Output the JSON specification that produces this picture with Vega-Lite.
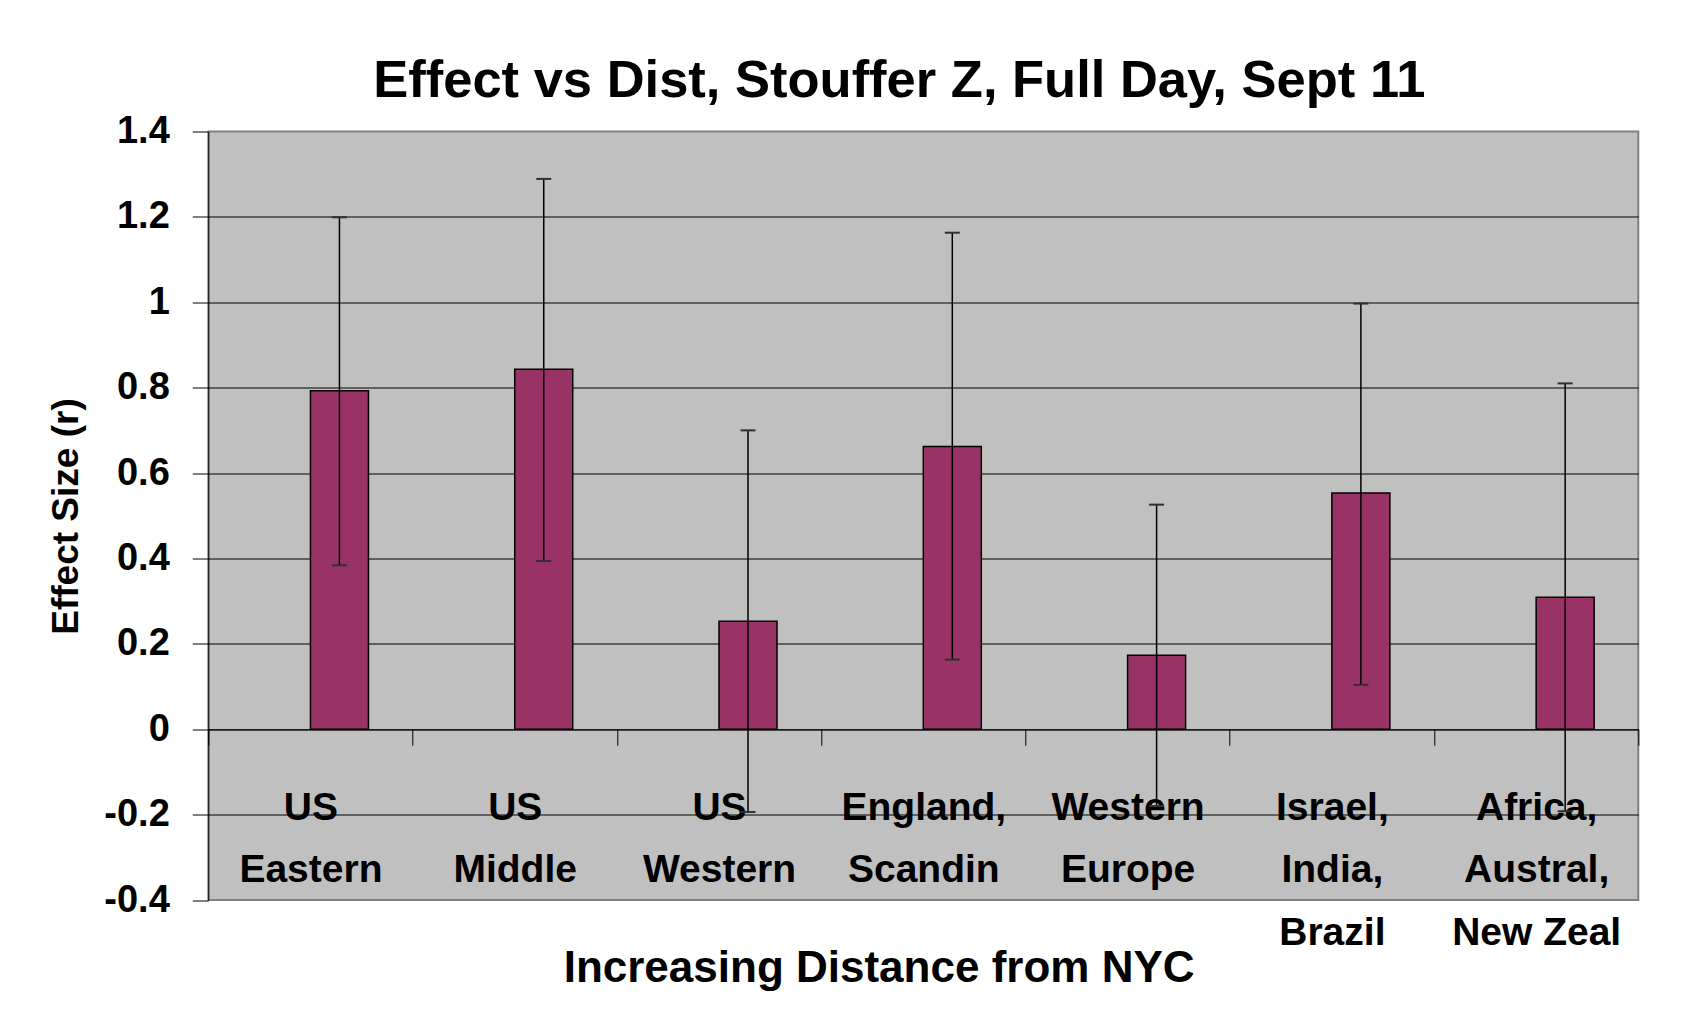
{
  "$schema": "https://vega.github.io/schema/vega-lite/v6.json",
  "width": 1430,
  "height": 768.5,
  "autosize": {"type": "none"},
  "padding": {"left": 208.3, "top": 131.5, "right": 49.7, "bottom": 116},
  "background": "white",
  "config": {
    "view": {"fill": "#C0C0C0", "stroke": "#808080", "strokeWidth": 2},
    "font": "Liberation Sans, Arial, sans-serif"
  },
  "title": {
    "text": "Effect vs Dist, Stouffer Z, Full Day, Sept 11",
    "fontSize": 52.5,
    "fontWeight": "bold",
    "color": "black",
    "anchor": "middle",
    "frame": "group",
    "baseline": "alphabetic",
    "offset": 12,
    "dy": 49,
    "dx": -24
  },
  "data": {
    "values": [
      {"region": "US Eastern", "series": "b", "effect": 0.793, "lo": 0.384, "hi": 1.199},
      {"region": "US Middle", "series": "b", "effect": 0.843, "lo": 0.394, "hi": 1.289},
      {"region": "US Western", "series": "b", "effect": 0.253, "lo": -0.194, "hi": 0.7},
      {"region": "England, Scandin", "series": "b", "effect": 0.662, "lo": 0.163, "hi": 1.163},
      {"region": "Western Europe", "series": "b", "effect": 0.173, "lo": -0.18, "hi": 0.526},
      {"region": "Israel, India, Brazil", "series": "b", "effect": 0.553, "lo": 0.104, "hi": 0.997},
      {"region": "Africa, Austral, New Zeal", "series": "b", "effect": 0.309, "lo": -0.192, "hi": 0.81}
    ]
  },
  "encoding": {
    "x": {
      "field": "region",
      "type": "nominal",
      "sort": null,
      "scale": {"paddingInner": 0, "paddingOuter": 0},
      "axis": {
        "title": "Increasing Distance from NYC",
        "titleFontSize": 44,
        "titleFontWeight": "bold",
        "titleColor": "black",
        "titleX": 670.3,
        "titleY": 252,
        "titleBaseline": "alphabetic",
        "titleAlign": "center",
        "offset": -170.7,
        "domainColor": "black",
        "domainWidth": 1,
        "tickBand": "extent",
        "tickSize": 16,
        "tickColor": "black",
        "tickWidth": 1,
        "labelAngle": 0,
        "labelFontSize": 39,
        "labelFontWeight": "bold",
        "labelColor": "black",
        "labelBaseline": "top",
        "labelAlign": "center",
        "labelLineHeight": 62.4,
        "labelPadding": 43.2,
        "labelLimit": 0,
        "labelOverlap": false,
        "labelExpr": "datum.label == 'Africa, Austral, New Zeal' ? ['Africa,', 'Austral,', 'New Zeal'] : split(datum.label, ' ')",
        "grid": false
      }
    }
  },
  "layer": [
    {
      "mark": {"type": "bar", "color": "#993366", "stroke": "black", "strokeWidth": 1.5},
      "encoding": {
        "xOffset": {"field": "series", "type": "nominal", "scale": {"domain": ["a", "b"], "paddingInner": 0, "paddingOuter": 0.761}},
        "y": {
          "field": "effect",
          "type": "quantitative",
          "title": "Effect Size (r)",
          "scale": {"domain": [-0.4, 1.4], "nice": false},
          "axis": {
            "values": [-0.4, -0.2, 0, 0.2, 0.4, 0.6, 0.8, 1, 1.2, 1.4],
            "labelExpr": "'' + round(datum.value * 10) / 10",
            "labelFontSize": 38,
            "labelFontWeight": "bold",
            "labelColor": "black",
            "labelPadding": 23,
            "labelBaseline": "middle",
            "tickSize": 16,
            "tickColor": "black",
            "domainColor": "black",
            "domainWidth": 1,
            "grid": true,
            "gridColor": "black",
            "gridWidth": 1,
            "gridOpacity": {"condition": {"test": "datum.value < -0.39 || datum.value > 1.39", "value": 0}, "value": 1},
            "titleFontSize": 37,
            "titleFontWeight": "bold",
            "titleColor": "black",
            "titleAngle": -90,
            "titleX": -131,
            "titleY": 384.5,
            "titleBaseline": "alphabetic",
            "titleAlign": "center"
          }
        },
        "y2": {"datum": 0}
      }
    },
    {
      "mark": {"type": "rule", "color": "black", "strokeWidth": 1.5},
      "encoding": {
        "x": {"field": "region", "type": "nominal", "sort": null, "bandPosition": 0.642},
        "y": {"field": "lo", "type": "quantitative", "title": "Effect Size (r)"},
        "y2": {"field": "hi"}
      }
    },
    {
      "mark": {"type": "point", "shape": "M -1 0 L 1 0", "size": 225, "filled": false, "stroke": "#303030", "strokeWidth": 2, "opacity": 1},
      "encoding": {
        "x": {"field": "region", "type": "nominal", "sort": null, "bandPosition": 0.642},
        "y": {"field": "lo", "type": "quantitative", "title": "Effect Size (r)"}
      }
    },
    {
      "mark": {"type": "point", "shape": "M -1 0 L 1 0", "size": 225, "filled": false, "stroke": "#303030", "strokeWidth": 2, "opacity": 1},
      "encoding": {
        "x": {"field": "region", "type": "nominal", "sort": null, "bandPosition": 0.642},
        "y": {"field": "hi", "type": "quantitative", "title": "Effect Size (r)"}
      }
    }
  ]
}
